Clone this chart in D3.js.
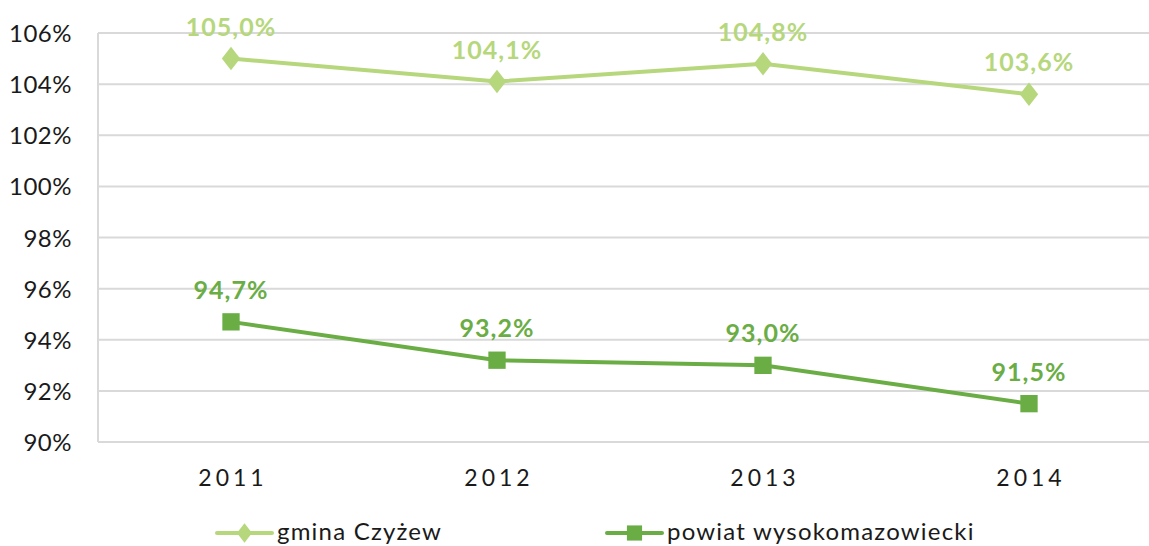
<!DOCTYPE html>
<html>
<head>
<meta charset="utf-8">
<script src="https://cdn.jsdelivr.net/npm/d3@7"></script>
<style>
  body { margin: 0; background: #fff; }
  text { font-family: "Lato", "DejaVu Sans", sans-serif; }
</style>
</head>
<body>
<svg id="chart" width="1149" height="546"></svg>
<script>
// chart data
const years = ["2011", "2012", "2013", "2014"];
const gminaValues = [105.0, 104.1, 104.8, 103.6];
const powiatValues = [94.7, 93.2, 93.0, 91.5];
const seriesNames = ["gmina Czyżew", "powiat wysokomazowiecki"];
const yTicks = [90, 92, 94, 96, 98, 100, 102, 104, 106];

const svg = d3.select("#chart");
const margin = { left: 98, top: 33 };

// band scale runs past the right edge, the original picture is cropped there
const x = d3.scaleBand().domain(years).range([margin.left, 1162]);
const y = d3.scaleLinear().domain([90, 106]).range([442, 33]);

const colors = { gmina: "#b6d77c", powiat: "#6aad45" };

// gridlines
svg.append("g")
    .selectAll("line").data(yTicks)
    .enter().append("line")
    .attr("x1", margin.left)
    .attr("x2", 1149)
    .attr("y1", d => y(d))
    .attr("y2", d => y(d))
    .attr("stroke", "#d9d9d9")
    .attr("stroke-width", 2);

// left axis line
svg.append("line")
    .attr("x1", margin.left).attr("x2", margin.left)
    .attr("y1", y(106)).attr("y2", y(90))
    .attr("stroke", "#d9d9d9")
    .attr("stroke-width", 2);

// y tick labels
svg.append("g")
    .selectAll("text").data(yTicks)
    .enter().append("text")
    .attr("x", 72)
    .attr("y", d => y(d) + 9)
    .attr("text-anchor", "end")
    .attr("font-size", 24)
    .attr("letter-spacing", 0.5)
    .attr("fill", "#1a1a1a")
    .text(d => d + "%");

// x labels
svg.append("g")
    .selectAll("text").data(years)
    .enter().append("text")
    .attr("x", d => x(d) + x.bandwidth() / 2 + 2)
    .attr("y", 486)
    .attr("text-anchor", "middle")
    .attr("font-size", 23)
    .attr("letter-spacing", 4)
    .attr("fill", "#1a1a1a")
    .text(d => d);

const cx = d => x(d) + x.bandwidth() / 2;
const line = d3.line()
    .x(d => cx(d.year))
    .y(d => y(d.value));

const fmt = v => v.toFixed(1).replace(".", ",") + "%";

const drawSeries = (values, color, shape) => {
    const data = years.map((yr, i) => ({ year: yr, value: values[i] }));
    const g = svg.append("g");
    g.append("path")
        .datum(data)
        .attr("d", line)
        .attr("fill", "none")
        .attr("stroke", color)
        .attr("stroke-width", 4);
    g.selectAll(".marker").data(data)
        .enter().append("path")
        .attr("d", d3.symbol().type(shape).size(shape === d3.symbolSquare ? 300 : 220))
        .attr("transform", d => `translate(${cx(d.year)},${y(d.value)})` + (shape === d3.symbolDiamond ? " scale(1.15,0.85)" : ""))
        .attr("fill", color);
    g.selectAll(".label").data(data)
        .enter().append("text")
        .attr("x", d => cx(d.year))
        .attr("y", d => y(d.value) - 23)
        .attr("text-anchor", "middle")
        .attr("font-size", 25)
        .attr("font-weight", "bold")
        .attr("letter-spacing", 1)
        .attr("fill", color)
        .text(d => fmt(d.value));
};

drawSeries(gminaValues, colors.gmina, d3.symbolDiamond);
drawSeries(powiatValues, colors.powiat, d3.symbolSquare);

// legend
const legendItems = [
    { name: seriesNames[0], color: colors.gmina, shape: d3.symbolDiamond, x: 217, size: 150 },
    { name: seriesNames[1], color: colors.powiat, shape: d3.symbolSquare, x: 607, size: 230 }
];
const legend = svg.append("g").selectAll("g").data(legendItems)
    .enter().append("g")
    .attr("transform", d => `translate(${d.x},533)`);
legend.append("line")
    .attr("x1", 0).attr("x2", 55)
    .attr("stroke", d => d.color)
    .attr("stroke-width", 4)
    .attr("stroke-linecap", "round");
legend.append("path")
    .attr("d", d => d3.symbol().type(d.shape).size(d.size)())
    .attr("transform", d => "translate(27.5,0)" + (d.shape === d3.symbolDiamond ? " scale(1.15,0.85)" : ""))
    .attr("fill", d => d.color);
legend.append("text")
    .attr("x", 60)
    .attr("y", 7)
    .attr("font-size", 24)
    .attr("letter-spacing", 1.2)
    .attr("fill", "#1a1a1a")
    .text(d => d.name);
</script>
</body>
</html>
